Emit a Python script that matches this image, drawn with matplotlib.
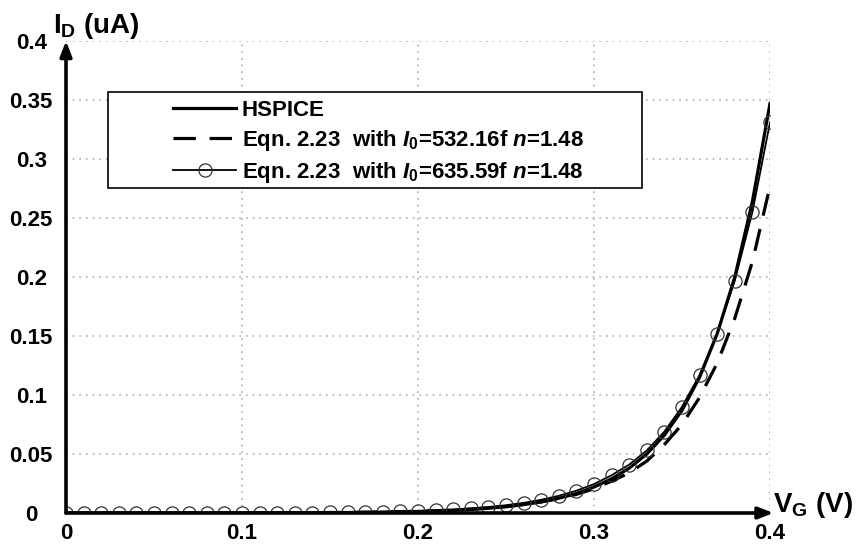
import numpy as np
import matplotlib
matplotlib.use("Agg")
import matplotlib.pyplot as plt
from matplotlib.patches import Rectangle

plt.rcParams["font.family"] = ["Liberation Sans", "DejaVu Sans"]
plt.rcParams["font.weight"] = "bold"
plt.rcParams["mathtext.fontset"] = "custom"
plt.rcParams["mathtext.rm"] = "Liberation Sans:bold"
plt.rcParams["mathtext.it"] = "Liberation Sans:bold:italic"
plt.rcParams["mathtext.bf"] = "Liberation Sans:bold"

# gate voltage (V), 0.01 V steps
vg = [round(0.01 * i, 2) for i in range(41)]

# drain current (uA)
hspice = [0, 0, 0, 0, 0, 0, 0, 0, 0, 0.0001,
          0.0001, 0.0001, 0.0001, 0.0002, 0.0002, 0.0003, 0.0004, 0.0005, 0.0007, 0.0010,
          0.0013, 0.0017, 0.0022, 0.0030, 0.0040, 0.0053, 0.0071, 0.0094, 0.0125, 0.0165,
          0.022, 0.029, 0.038, 0.050, 0.066, 0.087, 0.115, 0.152, 0.200, 0.264,
          0.347]
eqn_532 = [0, 0, 0, 0, 0, 0, 0, 0, 0.0001, 0.0001,
           0.0001, 0.0001, 0.0002, 0.0002, 0.0003, 0.0004, 0.0005, 0.0007, 0.0009, 0.0012,
           0.0015, 0.0019, 0.0025, 0.0033, 0.0043, 0.0055, 0.0072, 0.0094, 0.0122, 0.0158,
           0.0205, 0.027, 0.034, 0.044, 0.058, 0.075, 0.098, 0.127, 0.165, 0.213,
           0.277]
eqn_635 = [0, 0, 0, 0, 0, 0, 0, 0, 0.0001, 0.0001,
           0.0001, 0.0002, 0.0002, 0.0003, 0.0004, 0.0005, 0.0006, 0.0008, 0.0011, 0.0014,
           0.0018, 0.0023, 0.0030, 0.0039, 0.0051, 0.0066, 0.0086, 0.0112, 0.0146, 0.0189,
           0.0245, 0.032, 0.041, 0.053, 0.069, 0.090, 0.117, 0.152, 0.197, 0.255,
           0.331]

x_ticks = [0, 0.1, 0.2, 0.3, 0.4]
x_labels = ["0", "0.1", "0.2", "0.3", "0.4"]
y_ticks = [0, 0.05, 0.1, 0.15, 0.2, 0.25, 0.3, 0.35, 0.4]
y_labels = ["0", "0.05", "0.1", "0.15", "0.2", "0.25", "0.3", "0.35", "0.4"]

series_labels = [
    "HSPICE",
    r"Eqn. 2.23  with $I_{\mathrm{0}}$=532.16f $n$=1.48",
    r"Eqn. 2.23  with $I_{\mathrm{0}}$=635.59f $n$=1.48",
]

W, H = 860, 549
fig = plt.figure(figsize=(W / 100, H / 100), dpi=100)
ax = fig.add_axes([66 / W, 1 - 513 / H, (770 - 66) / W, (513 - 41) / H])

l1, = ax.plot(vg, hspice, color="black", lw=2.3, zorder=4)
l2, = ax.plot(vg, eqn_532, color="black", lw=2.3, dashes=(7, 4.3), zorder=3)
l3, = ax.plot(vg, eqn_635, color="black", lw=1.3, marker="o", markersize=9.5,
              markerfacecolor="none", markeredgecolor="#333333",
              markeredgewidth=0.9, zorder=5)

ax.set_xlim(0, 0.4)
ax.set_ylim(0, 0.4)
ax.set_xticks(x_ticks)
ax.set_xticklabels(x_labels)
ax.set_yticks(y_ticks)
ax.set_yticklabels(y_labels, ha="center")
ax.tick_params(axis="both", length=0, labelsize=16)
ax.tick_params(axis="y", pad=25)
ax.tick_params(axis="x", pad=7)
ax.grid(True, color="#b0b0b0", linestyle=(0, (1, 3)), lw=1.2)
for sp in ax.spines.values():
    sp.set_visible(False)
for lab in ax.get_xticklabels() + ax.get_yticklabels():
    lab.set_fontweight("bold")

# axes drawn as arrows
arrow = dict(arrowstyle="-|>,head_length=0.9,head_width=0.35", lw=2.6,
             color="black", shrinkA=0, shrinkB=0)
ax.annotate("", xy=(0, 1.0), xytext=(0, 0), xycoords="axes fraction",
            arrowprops=arrow, annotation_clip=False, zorder=6)
ax.annotate("", xy=(1.005, 0), xytext=(0, 0), xycoords="axes fraction",
            arrowprops=arrow, annotation_clip=False, zorder=6)

fig.text(53 / W, 1 - 33 / H, r"$\mathrm{I_D}$ (uA)", fontsize=20,
         fontweight="bold", ha="left", va="baseline")
fig.text(773 / W, 1 - 512 / H, r"$\mathrm{V_G}$ (V)", fontsize=20,
         fontweight="bold", ha="left", va="baseline")

# legend box
fig.patches.append(Rectangle((108 / W, 1 - 188 / H), (642 - 108) / W,
                             (188 - 92) / H, transform=fig.transFigure,
                             facecolor="white", edgecolor="black", lw=1.2,
                             zorder=7))
leg = fig.legend([l1, l2, l3], series_labels, loc="upper left",
                 bbox_to_anchor=(153 / W, 1 - 80 / H), frameon=False,
                 fontsize=16, handlelength=2.85, handletextpad=0.25,
                 labelspacing=0.32)
leg.set_zorder(8)
for t in leg.get_texts():
    t.set_fontweight("bold")

fig.savefig("out.png", dpi=100)
